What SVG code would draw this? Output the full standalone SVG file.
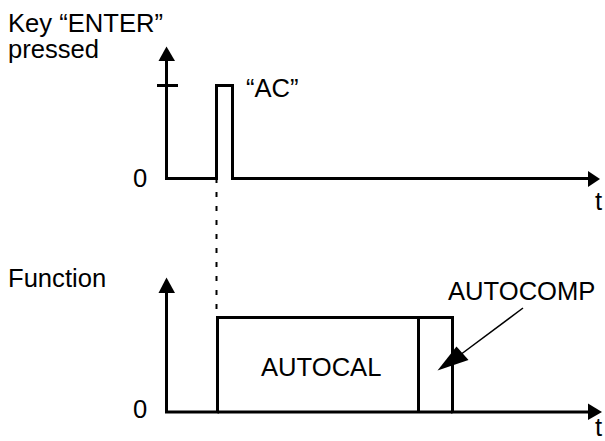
<svg xmlns="http://www.w3.org/2000/svg" width="605" height="441" viewBox="0 0 605 441">
<style>
text{font-family:"Liberation Sans",Arial,sans-serif;font-size:25.6px;fill:#000}
.ln{fill:none;stroke:#000;stroke-width:3}
.ah{fill:#000;stroke:none}
</style>
<rect width="605" height="441" fill="#fff"/>
<g id="labels">
<text x="8" y="32">Key “ENTER”</text>
<text x="8" y="58">pressed</text>
<text x="8" y="287">Function</text>
</g>
<g id="top-chart">
<line class="ln" x1="166.5" y1="179" x2="166.5" y2="58"/>
<polygon class="ah" points="166.5,46.5 158.5,61 175,61"/>
<line class="ln" x1="157" y1="85.5" x2="178" y2="85.5"/>
<polyline class="ln" points="165,178.5 216.5,178.5 216.5,85.5 232.5,85.5 232.5,178.5 590,178.5"/>
<polygon class="ah" points="600,179 588,171 588,187"/>
<text x="133" y="187">0</text>
<text x="595" y="210">t</text>
<text x="246" y="97">“AC”</text>
</g>
<g id="bottom-chart">
<line class="ln" x1="166.5" y1="412" x2="166.5" y2="290"/>
<polygon class="ah" points="166.5,277.5 158.5,293 175,293"/>
<polyline class="ln" points="165,412 217.5,412 217.5,317.5 452.5,317.5 452.5,412 591,412"/>
<line class="ln" x1="217.5" y1="412" x2="452.5" y2="412"/>
<line class="ln" x1="418.5" y1="317.5" x2="418.5" y2="412"/>
<polygon class="ah" points="602,412 588,403.5 588,420"/>
<text x="133" y="418">0</text>
<text x="595" y="436">t</text>
<text x="261" y="376">AUTOCAL</text>
<text x="448" y="300">AUTOCOMP</text>
</g>
<g id="connectors">
<line x1="216.5" y1="180" x2="216.5" y2="316" stroke="#000" stroke-width="2" stroke-dasharray="5 9" stroke-dashoffset="-12"/>
<line x1="523" y1="308" x2="460" y2="355" stroke="#000" stroke-width="1.5"/>
<polygon class="ah" points="437.5,370.5 456.5,346.5 468.5,360"/>
</g>
</svg>
